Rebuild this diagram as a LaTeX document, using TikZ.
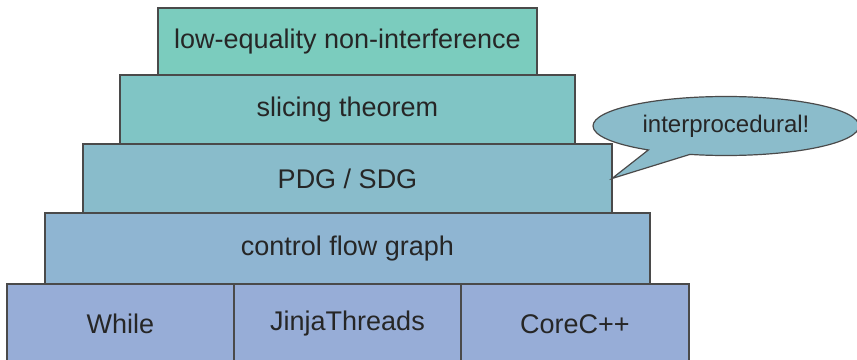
\documentclass[tikz,border=0pt]{standalone}
\usepackage{fontspec}
\setmainfont{Liberation Sans}
\usetikzlibrary{positioning,shapes.callouts}

\definecolor{lvlA}{HTML}{7BCCBE}
\definecolor{lvlB}{HTML}{80C5C5}
\definecolor{lvlC}{HTML}{89BCCB}
\definecolor{lvlD}{HTML}{8FB5D2}
\definecolor{lvlE}{HTML}{97ADD7}
\definecolor{bubble}{HTML}{8BBCCB}
\definecolor{edge}{HTML}{4A4A4A}

\begin{document}
\begin{tikzpicture}[
  x=1pt, y=-1pt,
  layer/.style={rectangle, draw=edge, line width=1.2pt, minimum height=69pt,
    inner sep=0pt, outer sep=0pt, text=black!85,
    font=\fontsize{27}{32}\selectfont},
  remark/.style={ellipse callout, draw=edge, line width=1.2pt, fill=bubble,
    inner sep=0pt, text=black!85, font=\fontsize{24}{28}\selectfont}
]
  \useasboundingbox (0,0) rectangle (857,359);

  % The stack, top down
  \node[layer, fill=lvlA, minimum width=379pt, minimum height=67pt] (lowni) at (347.5,41.5) {low-equality non-interference};
  \node[layer, fill=lvlB, minimum width=455pt] (slicing) at (347.5,109.5) {slicing theorem};
  \node[layer, fill=lvlC, minimum width=529pt] (pdg) at (347.5,178.5) {PDG / SDG};
  \node[layer, fill=lvlD, minimum width=605pt, minimum height=71pt] (cfg) at (347.5,248.5) {control flow graph};

  % Languages at the bottom (running off the page)
  \node[layer, fill=lvlE, minimum width=227pt, minimum height=80pt] (while) at (120.5,324) {While};
  \node[layer, fill=lvlE, minimum width=227pt, minimum height=80pt, right=0pt of while] (jinja) {JinjaThreads};
  \node[layer, fill=lvlE, minimum width=228pt, minimum height=80pt, right=0pt of jinja] (corec) {CoreC++};

  % Speech bubble
  \node[remark, minimum width=266pt, minimum height=59pt,
    callout absolute pointer={(pdg.east)}, callout pointer arc=20] (interproc) at (726,126) {interprocedural!};
\end{tikzpicture}
\end{document}
